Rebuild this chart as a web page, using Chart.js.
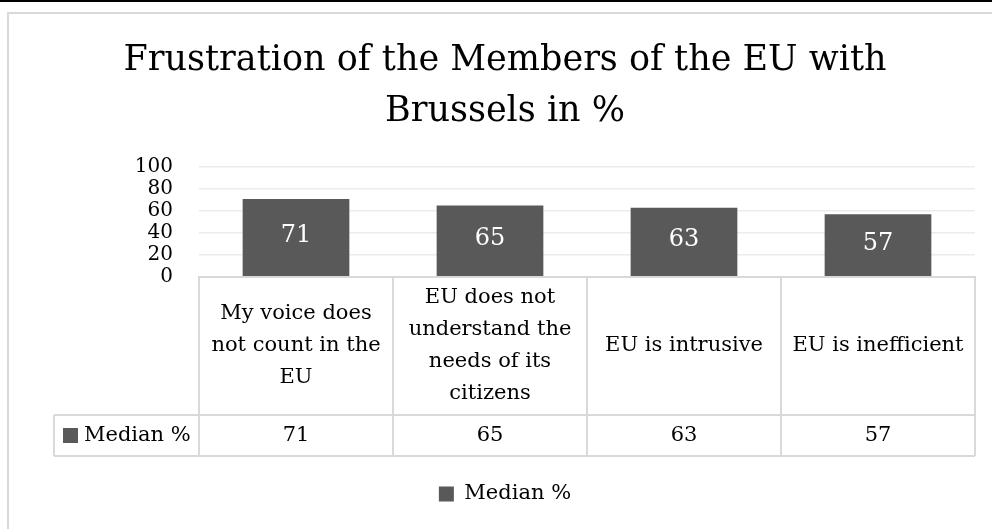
<!DOCTYPE html>
<html lang="en">
<head>
<meta charset="UTF-8">
<title>Frustration of the Members of the EU with Brussels in %</title>
<script src="https://cdn.jsdelivr.net/npm/chart.js"></script>
<style>
  body { margin: 0; background: #fff; overflow: hidden; }
  #topline { position: absolute; left: 0; top: 0; width: 992px; height: 2px; background: #000; }
  #frame { position: absolute; left: 7px; top: 12px; width: 1100px; height: 600px; border: 2px solid #d9d9d9; }
  #chart { position: absolute; left: 0; top: 0; }
</style>
</head>
<body>
<div id="topline"></div>
<div id="frame"></div>
<canvas id="chart" width="992" height="529"></canvas>
<script>
// chart data
const categories = [
  ['My voice does', 'not count in the', 'EU'],
  ['EU does not', 'understand the', 'needs of its', 'citizens'],
  ['EU is intrusive'],
  ['EU is inefficient']
];
const seriesName = 'Median %';
const medianValues = [71, 65, 63, 57];
const yTicks = [0, 20, 40, 60, 80, 100];
const titleLines = ['Frustration of the Members of the EU with', 'Brussels in %'];

const FONT = '"DejaVu Serif", serif';
const BAR = '#595959';
const LINE = '#d9d9d9';

// white value labels in the middle of each bar
const barLabels = {
  id: 'barLabels',
  afterDatasetsDraw(chart) {
    const ctx = chart.ctx;
    const meta = chart.getDatasetMeta(0);
    ctx.save();
    ctx.fillStyle = '#fff';
    ctx.font = '24px ' + FONT;
    ctx.textAlign = 'center';
    ctx.textBaseline = 'middle';
    meta.data.forEach((bar, i) => {
      ctx.fillText(String(chart.data.datasets[0].data[i]), bar.x, (bar.y + bar.base) / 2 - 2);
    });
    ctx.restore();
  }
};

// Excel style data table under the plot
const dataTable = {
  id: 'dataTable',
  afterDraw(chart) {
    const ctx = chart.ctx;
    const xs = chart.scales.x;
    const area = chart.chartArea;
    const n = categories.length;
    const cellW = (area.right - area.left) / n;
    const top = area.bottom;
    const headBottom = top + 138;
    const rowBottom = headBottom + 41;
    const leftEdge = 54;

    ctx.save();
    ctx.strokeStyle = LINE;
    ctx.lineWidth = 2;
    ctx.beginPath();
    ctx.moveTo(area.left, top); ctx.lineTo(area.right, top);
    ctx.moveTo(leftEdge, headBottom); ctx.lineTo(area.right, headBottom);
    ctx.moveTo(leftEdge, rowBottom); ctx.lineTo(area.right, rowBottom);
    ctx.moveTo(leftEdge, headBottom); ctx.lineTo(leftEdge, rowBottom);
    for (let i = 0; i <= n; i++) {
      const lx = i < n ? xs.getPixelForValue(i) - cellW / 2 : area.right;
      ctx.moveTo(lx, top); ctx.lineTo(lx, rowBottom);
    }
    ctx.stroke();

    ctx.fillStyle = '#000';
    ctx.font = '21px ' + FONT;
    ctx.textAlign = 'center';
    ctx.textBaseline = 'middle';
    const mid = (top + headBottom) / 2;
    const lh = 32;
    categories.forEach((lines, i) => {
      const cx = xs.getPixelForValue(i);
      const y0 = mid - (lines.length - 1) * lh / 2;
      lines.forEach((t, k) => ctx.fillText(t, cx, y0 + k * lh));
      ctx.fillText(String(medianValues[i]), cx, (headBottom + rowBottom) / 2);
    });

    // series key in the first column
    const ry = (headBottom + rowBottom) / 2;
    ctx.fillStyle = BAR;
    ctx.fillRect(63, ry - 7.5, 15, 15);
    ctx.fillStyle = '#000';
    ctx.textAlign = 'left';
    ctx.fillText(seriesName, 84, ry);
    ctx.restore();
  }
};

new Chart(document.getElementById('chart'), {
  type: 'bar',
  data: {
    labels: categories,
    datasets: [{
      label: seriesName,
      data: medianValues,
      backgroundColor: BAR,
      categoryPercentage: 1,
      barPercentage: 0.55
    }]
  },
  options: {
    responsive: false,
    animation: false,
    events: [],
    layout: { padding: { left: 35, right: 17, top: 0, bottom: 14.5 } },
    plugins: {
      title: {
        display: true,
        text: titleLines,
        color: '#000',
        font: { family: FONT, size: 35, weight: 'normal', lineHeight: 51 / 35 },
        padding: { top: 35.5, bottom: 29.5 }
      },
      legend: {
        position: 'bottom',
        labels: {
          color: '#000',
          font: { family: FONT, size: 21 },
          boxWidth: 15,
          boxHeight: 15,
          padding: 10
        }
      },
      tooltip: { enabled: false }
    },
    scales: {
      x: {
        grid: { display: false },
        border: { display: true, color: LINE, width: 2 },
        ticks: { display: false },
        afterFit(scale) { scale.height = 196.5; }
      },
      y: {
        min: yTicks[0],
        max: yTicks[yTicks.length - 1],
        grid: { color: '#ececec', lineWidth: 1.5, drawTicks: false },
        border: { display: false },
        ticks: {
          stepSize: yTicks[1] - yTicks[0],
          autoSkip: false,
          color: '#000',
          padding: 26,
          font: { family: FONT, size: 20, lineHeight: 1 }
        },
        afterFit(scale) { scale.width = 164; }
      }
    }
  },
  plugins: [barLabels, dataTable]
});
</script>
</body>
</html>
